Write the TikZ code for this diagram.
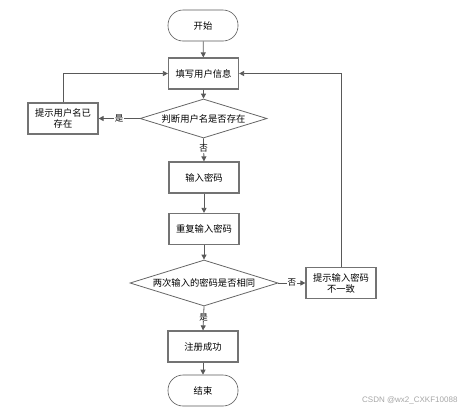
\documentclass[tikz,border=0pt]{standalone}
\usepackage{fontspec}
\setmainfont{Noto Sans CJK SC}
\newfontfamily\wmfont{Liberation Sans}
\usetikzlibrary{shapes.geometric,arrows.meta}
\begin{document}
\begin{tikzpicture}[x=1pt,y=-1pt,
  font=\fontsize{9.3}{11}\selectfont,
  proc/.style={draw=black!55,line width=1.2pt,fill=white,minimum width=70pt,minimum height=31pt,inner sep=1pt,align=center},
  term/.style={draw=black!65,line width=0.6pt,rounded corners=15pt,minimum width=70pt,minimum height=31pt},
  dec/.style={draw=black!60,line width=0.8pt,diamond,aspect=3.3,inner sep=0pt},
  conn/.style={draw=black!65,line width=0.8pt,-{Triangle[length=5pt,width=5pt]}},
  lab/.style={fill=white,inner sep=0.5pt,font=\fontsize{8.5}{9}\selectfont}]
\useasboundingbox (0,0) rectangle (462,413);
\node[term] (start) at (203,25.5) {开始};
\node[proc] (fill) at (203.5,73.5) {填写用户信息};
\node[dec,minimum width=127pt,minimum height=39pt] (chk) at (203.5,118.5) {判断用户名是否存在};
\node[proc] (exist) at (63,118.5) {提示用户名已\\存在};
\node[proc] (pw) at (204,177.5) {输入密码};
\node[proc] (pw2) at (204,229) {重复输入密码};
\node[dec,minimum width=148pt,minimum height=46pt] (same) at (204,283) {两次输入的密码是否相同};
\node[proc] (diff) at (341,283) {提示输入密码\\不一致};
\node[proc] (ok) at (203,346.5) {注册成功};
\node[term] (end) at (203,390.5) {结束};
\node[text=black!35,font=\wmfont\fontsize{8}{9}\selectfont,anchor=east] (wm) at (461,400) {CSDN @wx2\_CXKF10088};

\draw[conn] (start) -- (fill);
\draw[conn] (fill) -- (chk);
\draw[conn] (chk.west) -- node[lab] {是} (exist.east);
\draw[conn] (exist.north) |- (fill.west);
\draw[conn] (chk.south) -- node[lab,pos=0.45] {否} (pw.north);
\draw[conn] (pw) -- (pw2);
\draw[conn] (pw2) -- (same);
\draw[conn] (same.east) -- node[lab] {否} (diff.west);
\draw[conn] (diff.north) |- (fill.east);
\draw[conn] (same.south) -- node[lab,pos=0.45] {是} (ok.north);
\draw[conn] (ok) -- (end);
\end{tikzpicture}
\end{document}
